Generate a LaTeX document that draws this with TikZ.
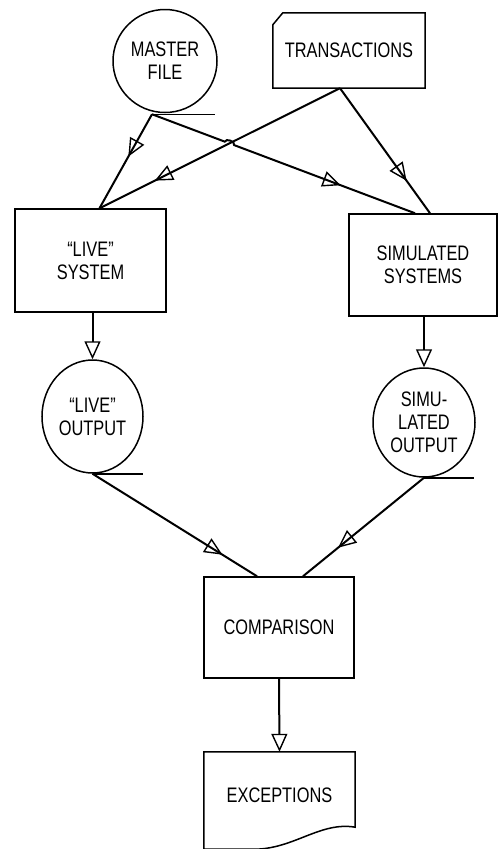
\documentclass[tikz,border=0pt]{standalone}
\usepackage{fontspec}
\setmainfont{Liberation Sans}[FakeStretch=0.78]
\usetikzlibrary{arrows.meta,shapes.geometric,decorations.markings,intersections,calc}

\tikzset{
  box/.style={draw, line width=1.5pt, align=center, inner sep=0pt},
  disk/.style={ellipse, draw, line width=1.5pt, align=center, inner sep=0pt},
  flow/.style={line width=2pt},
  midarrow/.style={postaction={decorate, decoration={markings,
      mark=at position #1 with {\arrow[line width=1.4pt]{Triangle[open,length=18pt,width=16pt]}}}}},
  endarrow/.style={-{Triangle[open,length=18pt,width=16pt,line width=1.4pt]}}
}

\begin{document}
\begin{tikzpicture}[x=1pt, y=-1pt, font=\fontsize{21}{23}\selectfont]
        \useasboundingbox (0,0) rectangle (498,849);

        % ingressi
        \node[disk, minimum width=104pt, minimum height=103pt] (mf) at (165,61) {MASTER\\FILE};
        \node[minimum width=152pt, minimum height=75pt] (tr) at (349,50.5) {TRANSACTIONS};
        \draw[line width=1.5pt] ([yshift=-12pt]tr.north west) -- ([xshift=10pt]tr.north west)
            -- (tr.north east) -- (tr.south east) -- (tr.south west) -- cycle; % scheda

        % sistemi
        \node[box, minimum width=151pt, minimum height=103pt] (ls) at (90.5,260.5) {``LIVE''\\SYSTEM};
        \node[box, minimum width=148pt, minimum height=102pt] (ss) at (423,265) {SIMULATED\\SYSTEMS};

        % uscite
        \node[disk, minimum width=101pt, minimum height=113pt] (lo) at (92.5,416.5) {``LIVE''\\OUTPUT};
        \node[disk, minimum width=102pt, minimum height=109pt] (so) at (424,422.5) {SIMU-\\LATED\\OUTPUT};

        \node[box, minimum width=150pt, minimum height=101pt] (cmp) at (279,627.5) {COMPARISON};
        \node[minimum width=151pt, minimum height=97pt, text depth=10pt] (ex) at (279.5,800.5) {EXCEPTIONS};
        \draw[line width=1.5pt] (ex.south west) -- (ex.north west) -- (ex.north east)
            -- ([yshift=22pt]ex.south east) .. controls +(-35,-6) and +(40,0) .. ([xshift=50pt]ex.south west)
            -- (ex.south west); % documento

        % linee dei nastri
        \coordinate (mfo) at ($(mf.south)+(-13,1)$);
        \draw[line width=1.5pt] (mfo) -- ++(63,0);
        \draw[line width=1.5pt] (lo.south) -- ++(50,0);
        \draw[line width=1.5pt] (so.south) -- ++(50,0);

        % incrocio
        \path[name path=mfline] (mfo) -- ([xshift=-8pt]ss.north);
        \path[name path=trline] ([xshift=-9pt]tr.south) -- ([xshift=9pt]ls.north);
        \path[name intersections={of=mfline and trline, by=hop}];

        \draw[flow, midarrow=0.45] (mfo) -- ([xshift=9pt]ls.north);
        \draw[flow, midarrow=0.77] ([xshift=-9pt]tr.south) -- ([xshift=9pt]ls.north);
        \draw[flow, midarrow=0.72] (mfo) -- ($(hop)!5pt!(mfo)$) to[bend left=90] ($(hop)!5pt!(ss.north)$)
            -- ([xshift=-8pt]ss.north); % salto
        \draw[flow, midarrow=0.74] ([xshift=-9pt]tr.south) -- ([xshift=7pt]ss.north);

        \draw[flow, endarrow] (lo.north |- ls.south) -- (lo.north);
        \draw[flow, endarrow] (so.north |- ss.south) -- (so.north);

        \draw[flow, midarrow=0.79] (lo.south) -- ([xshift=-22pt]cmp.north);
        \draw[flow, midarrow=0.71] (so.south) -- ([xshift=24pt]cmp.north);
        \draw[flow, endarrow] (cmp.south) -- (ex.north);
    \end{tikzpicture}
\end{document}
